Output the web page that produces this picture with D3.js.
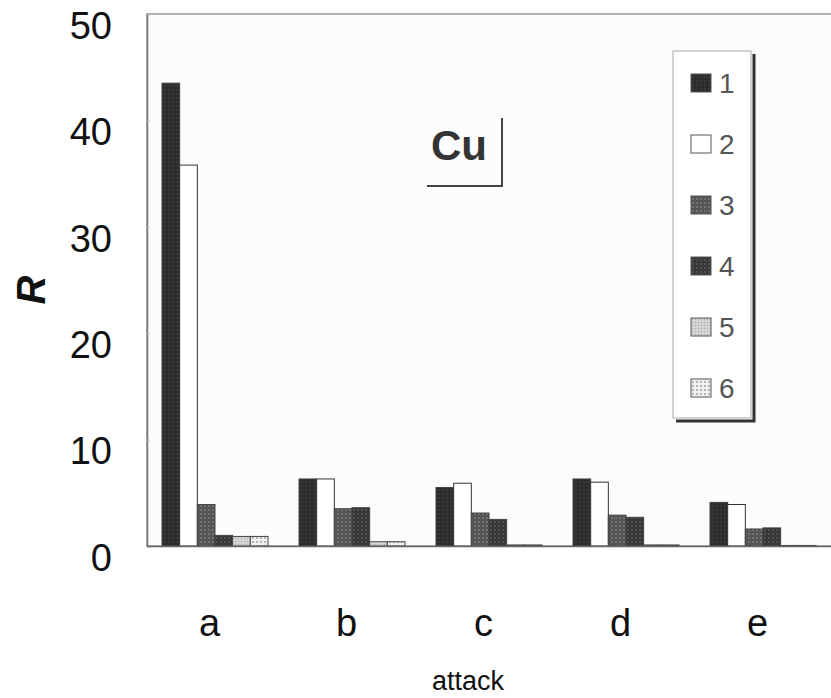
<!DOCTYPE html>
<html lang="en">
<head>
  <meta charset="UTF-8">
  <title>Cu attack bars</title>
  <style type="text/css">
    body{
      margin: 0;
      background: #fff;
      font-family: "Liberation Sans", Arial, sans-serif;
    }
    .axis text{
      font-size: 38px;
      fill: #111;
    }
    .legend text{
      font-size: 28px;
      fill: #555;
    }
  </style>
  <script type="text/javascript" src="https://d3js.org/d3.v7.min.js"></script>
</head>
<body>
<script type="text/javascript">
  // values
  var categories = ['a', 'b', 'c', 'd', 'e'];
  var seriesNames = ['1', '2', '3', '4', '5', '6'];
  var s1 = [43.5, 6.3, 5.5, 6.3, 4.1];
  var s2 = [35.8, 6.3, 5.9, 6.0, 3.9];
  var s3 = [3.9, 3.5, 3.1, 2.9, 1.6];
  var s4 = [1.0, 3.6, 2.5, 2.7, 1.7];
  var s5 = [0.9, 0.4, 0.1, 0.1, 0.05];
  var s6 = [0.9, 0.4, 0.1, 0.1, 0.05];
  var yTicks = [0, 10, 20, 30, 40, 50];

  var allSeries = [s1, s2, s3, s4, s5, s6];

  var W = 831, H = 698;
  var plotLeft = 147, plotTop = 14, plotBottom = 546;

  var svg = d3.select('body')
    .append('svg')
    .attr('width', W)
    .attr('height', H);

  // patterns for the scanned textures
  var defs = svg.append('defs');
  function dots(id, bg, fg, step, r){
    var p = defs.append('pattern')
      .attr('id', id)
      .attr('width', step).attr('height', step)
      .attr('patternUnits', 'userSpaceOnUse');
    p.append('rect').attr('width', step).attr('height', step).attr('fill', bg);
    p.append('circle').attr('cx', step/2).attr('cy', step/2).attr('r', r).attr('fill', fg);
  }
  dots('p1', '#2c2c2c', '#3c3c3c', 4, 1);
  dots('p3', '#555', '#777', 4, 1.1);
  dots('p4', '#383838', '#555', 4, 1);
  dots('p5', '#d6d6d6', '#aaa', 3, 0.7);
  dots('p6', '#f0f0f0', '#999', 4, 0.9);

  var fills = ['url(#p1)', '#fff', 'url(#p3)', 'url(#p4)', 'url(#p5)', 'url(#p6)'];

  var x0 = d3.scaleBand().domain(categories).range([plotLeft, 832]);
  var x1 = d3.scaleBand().domain(seriesNames).range([15, 121]);
  var y = d3.scaleLinear().domain([0, 50]).range([plotBottom, plotTop]);

  // frame
  svg.append('rect')
    .attr('x', plotLeft).attr('y', plotTop)
    .attr('width', W - plotLeft + 5).attr('height', plotBottom - plotTop)
    .attr('fill', '#fcfcfc')
    .attr('stroke', '#999')
    .attr('stroke-width', 1.5);

  // bars
  var rows = categories.map(function(c, i){
    return { cat: c, vals: allSeries.map(function(s, k){ return { key: seriesNames[k], k: k, v: s[i] }; }) };
  });

  var groups = svg.selectAll('.grp')
    .data(rows)
    .enter().append('g')
    .attr('class', 'grp')
    .attr('transform', function(d){ return 'translate(' + x0(d.cat) + ',0)'; });

  groups.selectAll('rect')
    .data(function(d){ return d.vals; })
    .enter().append('rect')
    .attr('x', function(d){ return x1(d.key); })
    .attr('width', x1.bandwidth())
    .attr('y', function(d){ return y(d.v); })
    .attr('height', function(d){ return y(0) - y(d.v); })
    .attr('fill', function(d){ return fills[d.k]; })
    .attr('stroke', function(d){ return d.k === 1 ? '#333' : '#444'; })
    .attr('stroke-width', 1);

  // y axis
  var yAxis = d3.axisLeft(y).tickValues(yTicks).tickSize(-3).tickPadding(35);
  var ya = svg.append('g')
    .attr('class', 'y axis')
    .attr('transform', 'translate(' + plotLeft + ',0)')
    .call(yAxis);
  ya.select('.domain').attr('stroke', '#777').attr('stroke-width', 1.5);
  ya.selectAll('line').attr('stroke', '#bbb');
  ya.selectAll('text').attr('dy', '0.35em').attr('transform', 'translate(0,11)');

  // x axis
  var xAxis = d3.axisBottom(x0).tickSize(0).tickPadding(63);
  var xa = svg.append('g')
    .attr('class', 'x axis')
    .attr('transform', 'translate(0,' + plotBottom + ')')
    .call(xAxis);
  xa.select('.domain').attr('stroke', '#666').attr('stroke-width', 1.5);
  xa.selectAll('text').attr('dx', -6);

  svg.append('text')
    .attr('x', 468)
    .attr('y', 690)
    .attr('text-anchor', 'middle')
    .style('font-size', '27px')
    .attr('fill', '#111')
    .text('attack');

  svg.append('text')
    .attr('transform', 'translate(45,290) rotate(-90)')
    .attr('text-anchor', 'middle')
    .style('font-size', '40px')
    .style('font-weight', 'bold')
    .style('font-style', 'italic')
    .attr('fill', '#111')
    .text('R');

  // Cu label with shadow corner
  svg.append('text')
    .attr('x', 431)
    .attr('y', 160)
    .style('font-size', '42px')
    .style('font-weight', 'bold')
    .attr('fill', '#333')
    .text('Cu');
  svg.append('path')
    .attr('d', 'M427,186H502V118')
    .attr('fill', 'none')
    .attr('stroke', '#444')
    .attr('stroke-width', 2);

  // legend
  var lg = svg.append('g').attr('class', 'legend');
  lg.append('path')
    .attr('d', 'M676,421H754V54')
    .attr('fill', 'none')
    .attr('stroke', '#333')
    .attr('stroke-width', 3);
  lg.append('rect')
    .attr('x', 673).attr('y', 51)
    .attr('width', 78).attr('height', 367)
    .attr('fill', '#fff')
    .attr('stroke', '#aaa')
    .attr('stroke-width', 1);

  var item = lg.selectAll('.item')
    .data(seriesNames)
    .enter().append('g')
    .attr('class', 'item')
    .attr('transform', function(d, i){ return 'translate(691,' + (83 + i * 61) + ')'; });

  item.append('rect')
    .attr('x', 0).attr('y', -9)
    .attr('width', 20).attr('height', 18)
    .attr('fill', function(d, i){ return fills[i]; })
    .attr('stroke', '#555')
    .attr('stroke-width', 1);

  item.append('text')
    .attr('x', 28)
    .attr('y', 0)
    .attr('dy', '0.36em')
    .text(function(d){ return d; });
</script>
</body>
</html>
